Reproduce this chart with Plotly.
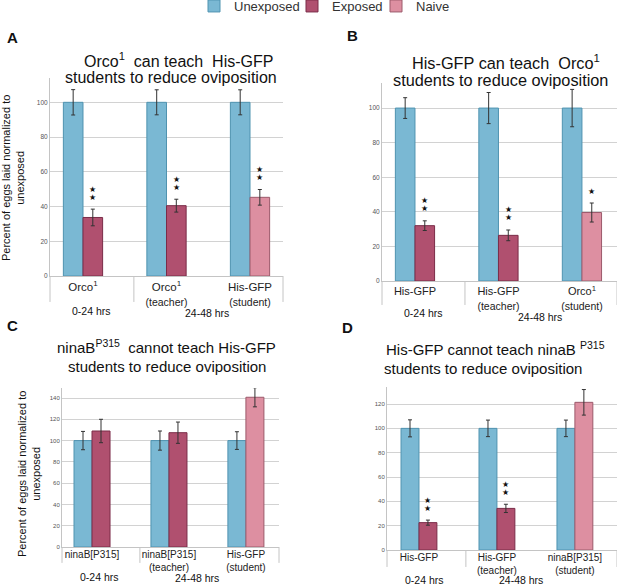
import plotly.graph_objects as go

W, H = 617, 585
FONT = "Liberation Sans, Arial, sans-serif"

# colours of the three groups
C_UNEXP = "#7ab8d3"
C_EXP = "#b0506f"
C_NAIVE = "#dd8fa1"
L_UNEXP = "#4f93b0"
L_EXP = "#7a2c48"
L_NAIVE = "#9c5a6b"

# ---- data ----
# panel A
A_genotype = ["Orco<sup>1</sup>", "Orco<sup>1</sup>", "His-GFP"]
A_role = ["", "(teacher)", "(student)"]
A_unexp = [100, 100, 100]
A_unexp_err = [7.3, 7.2, 7.2]
A_second = [33.7, 40.5, 45.3]
A_second_err = [4.8, 3.7, 4.5]
A_kind = ["Exposed", "Exposed", "Naive"]
A_stars = [2, 2, 2]

# panel B
B_genotype = ["His-GFP", "His-GFP", "Orco<sup>1</sup>"]
B_role = ["", "(teacher)", "(student)"]
B_unexp = [100, 100, 100]
B_unexp_err = [6, 9, 10.8]
B_second = [32.0, 26.4, 39.6]
B_second_err = [2.8, 3.1, 5.5]
B_kind = ["Exposed", "Exposed", "Naive"]
B_stars = [2, 2, 1]

# panel C
C_genotype = ["ninaB[P315]", "ninaB[P315]", "His-GFP"]
C_role = ["", "(teacher)", "(student)"]
C_unexp = [100, 100, 100]
C_unexp_err = [8.6, 9, 8.3]
C_second = [109, 107.4, 140.7]
C_second_err = [11, 10, 9]
C_kind = ["Exposed", "Exposed", "Naive"]
C_stars = [0, 0, 1]

# panel D
D_genotype = ["His-GFP", "His-GFP", "ninaB[P315]"]
D_role = ["", "(teacher)", "(student)"]
D_unexp = [100, 100, 100]
D_unexp_err = [7, 6.8, 6.8]
D_second = [22.5, 34.2, 121.4]
D_second_err = [2.1, 3.4, 10.5]
D_kind = ["Exposed", "Exposed", "Naive"]
D_stars = [2, 2, 0]

periods = ["0-24 hrs", "24-48 hrs"]
YTITLE = "Percent of eggs laid normalized to<br>unexposed"


def X(px):
    return px / W


def Y(py):
    return 1 - py / H


# layout of each panel (pixel boxes)
panels = [
    dict(name="A", ax="", genotype=A_genotype, role=A_role, unexp=A_unexp,
         unexp_err=A_unexp_err, second=A_second, second_err=A_second_err,
         kind=A_kind, stars=A_stars,
         box=(50, 283, 78, 276), yrange=[0, 114], xrange=[-0.395, 2.395],
         ytick=20, ymax_tick=100, width=0.235, tfont=11.5, rfont=10.5, tickfont=6.5,
         standoff=0, sep=0.36, sep_bottom=-0.131, tsize=16,
         title=["Orco<sup>1</sup>  can teach  His-GFP",
                "students to reduce oviposition"],
         tpos=[(178, 60), (171, 78)], letter=(12, 37),
         hrs=[(91, 311), (207, 313)], ytitle=(28, 178)),
    dict(name="B", ax="2", genotype=B_genotype, role=B_role, unexp=B_unexp,
         unexp_err=B_unexp_err, second=B_second, second_err=B_second_err,
         kind=B_kind, stars=B_stars,
         box=(382, 617, 83, 281), yrange=[0, 114.5], xrange=[-0.395, 2.42],
         ytick=20, ymax_tick=100, width=0.235, tfont=11, rfont=10.5, tickfont=6.5,
         standoff=0, sep=0.353, sep_bottom=-0.121, tsize=16.3,
         title=["His-GFP can teach  Orco<sup>1</sup>",
                "students to reduce oviposition"],
         tpos=[(506, 62), (500, 80)], letter=(352, 35),
         hrs=[(423, 313), (540, 317)], ytitle=None),
    dict(name="C", ax="3", genotype=C_genotype, role=C_role, unexp=C_unexp,
         unexp_err=C_unexp_err, second=C_second, second_err=C_second_err,
         kind=C_kind, stars=C_stars,
         box=(62, 279, 388, 547), yrange=[0, 149.4], xrange=[-0.39, 2.43],
         ytick=20, ymax_tick=140, width=0.234, tfont=10, rfont=10, tickfont=6,
         standoff=-2, sep=0.359, sep_bottom=-0.10, tsize=15,
         title=["ninaB<sup>P315</sup>  cannot teach His-GFP",
                "students to reduce oviposition"],
         tpos=[(166, 346), (167, 366)], letter=(12, 325),
         hrs=[(99, 577), (197, 578)], ytitle=(44, 474)),
    dict(name="D", ax="4", genotype=D_genotype, role=D_role, unexp=D_unexp,
         unexp_err=D_unexp_err, second=D_second, second_err=D_second_err,
         kind=D_kind, stars=D_stars,
         box=(387, 617, 387, 550), yrange=[0, 134], xrange=[-0.41, 2.54],
         ytick=20, ymax_tick=120, width=0.23, tfont=10, rfont=10, tickfont=6,
         standoff=-2, sep=0.343, sep_bottom=-0.104, tsize=15,
         title=["His-GFP cannot teach ninaB <sup>P315</sup>",
                "students to reduce oviposition"],
         tpos=[(495, 348), (483, 368)], letter=(347, 327),
         hrs=[(424, 580), (521, 580)], ytitle=None),
]

fig = go.Figure()
annotations = []
shapes = []
layout = {}


def note(px, py, text, size, **kw):
    d = dict(x=X(px), y=Y(py), xref="paper", yref="paper", text=text,
             showarrow=False, xanchor="center", yanchor="middle",
             font=dict(size=size, color="#111", family=FONT))
    d.update(kw)
    annotations.append(d)


for p_i, p in enumerate(panels):
    ax = p["ax"]
    xname, yname = "x" + ax, "y" + ax
    w = p["width"]
    first = p_i == 0

    fig.add_trace(go.Bar(
        x=[0, 1, 2], y=p["unexp"], name="Unexposed",
        xaxis=xname, yaxis=yname, width=w, offset=-w,
        marker=dict(color=C_UNEXP, line=dict(color=L_UNEXP, width=1)),
        error_y=dict(type="data", array=p["unexp_err"], thickness=1, width=2,
                     color="#333"),
        showlegend=first, legend="legend"))

    for kind, col, lcol, leg in [("Exposed", C_EXP, L_EXP, "legend2"),
                                 ("Naive", C_NAIVE, L_NAIVE, "legend3")]:
        idx = [i for i, k in enumerate(p["kind"]) if k == kind]
        fig.add_trace(go.Bar(
            x=idx, y=[p["second"][i] for i in idx], name=kind,
            xaxis=xname, yaxis=yname, width=w, offset=0,
            marker=dict(color=col, line=dict(color=lcol, width=1)),
            error_y=dict(type="data", array=[p["second_err"][i] for i in idx],
                         thickness=1, width=2, color="#333"),
            showlegend=first, legend=leg))

    x0, x1, y0, y1 = p["box"]
    ticktext = []
    for g, r in zip(p["genotype"], p["role"]):
        t = g
        if r:
            t += "<br><span style='font-size:%spx'>%s</span>" % (p["rfont"], r)
        ticktext.append(t)

    layout["xaxis" + ax] = dict(
        domain=[X(x0), X(x1)], range=p["xrange"], anchor=yname,
        tickvals=[0, 1, 2], ticktext=ticktext, showgrid=False, zeroline=False,
        showline=True, linecolor="#c4c4c4", linewidth=1, ticks="",
        ticklabelstandoff=p["standoff"],
        tickfont=dict(size=p["tfont"], color="#222", family=FONT),
        fixedrange=True)
    layout["yaxis" + ax] = dict(
        domain=[Y(y1), Y(y0)], range=p["yrange"], anchor=xname,
        tickvals=list(range(0, p["ymax_tick"] + 1, p["ytick"])),
        showgrid=True, gridcolor="#d2d2d2", gridwidth=1, zeroline=False,
        showline=True, linecolor="#c4c4c4", linewidth=1, ticks="",
        tickfont=dict(size=p["tickfont"], color="#555", family=FONT),
        fixedrange=True)

    # category separators below the axis
    for fx in [0, p["sep"], 1]:
        shapes.append(dict(type="line", xref=xname + " domain",
                           yref=yname + " domain", x0=fx, x1=fx,
                           y0=p["sep_bottom"], y1=0,
                           line=dict(color="#c4c4c4", width=1)))

    # significance stars above the second bar
    for i, n in enumerate(p["stars"]):
        for k in range(n):
            annotations.append(dict(
                x=i + w / 2, y=p["second"][i] + p["second_err"][i],
                xref=xname, yref=yname, text="★", showarrow=False,
                xanchor="center", yanchor="middle",
                yshift=12 + 8 * k, font=dict(size=7.5, color="#111")))

    for line, (tx, ty) in zip(p["title"], p["tpos"]):
        note(tx, ty, line, p["tsize"])

    lx, ly = p["letter"]
    note(lx, ly, "<b>%s</b>" % p["name"], 15)

    for label, (hx, hy) in zip(periods, p["hrs"]):
        note(hx, hy, label, 10.5)

    # rotated axis title, anchored by its right edge
    if p["ytitle"]:
        yx, yy = p["ytitle"]
        note(yx, yy, YTITLE, 11, textangle=-90, xanchor="right")

legend_style = dict(orientation="h", xanchor="left", yanchor="top",
                    y=1 + 9 / H, bgcolor="rgba(0,0,0,0)",
                    font=dict(size=13, color="#333", family=FONT))

fig.update_layout(
    width=W, height=H,
    margin=dict(l=0, r=0, t=0, b=0, pad=0, autoexpand=False),
    paper_bgcolor="white", plot_bgcolor="white",
    barmode="overlay",
    font=dict(family=FONT),
    legend=dict(x=X(194), **legend_style),
    legend2=dict(x=X(292), **legend_style),
    legend3=dict(x=X(376), **legend_style),
    annotations=annotations,
    shapes=shapes,
    **layout)

fig.write_html("out.html", config={"displayModeBar": False},
               post_script="document.body.style.margin='0px';")
